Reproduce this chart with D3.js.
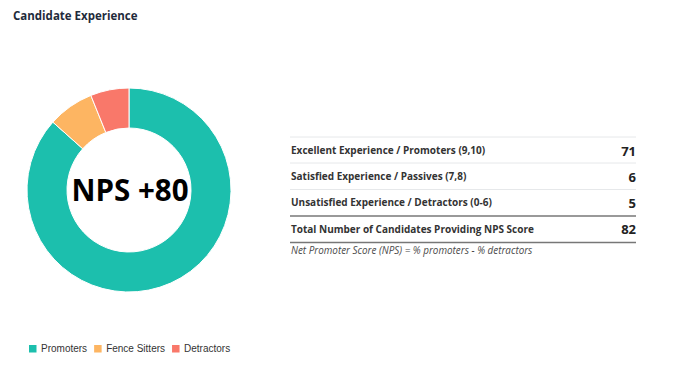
<!DOCTYPE html>
<html><head><meta charset="utf-8">
<script src="https://cdn.jsdelivr.net/npm/d3@7"></script>
<style>
html,body{margin:0;padding:0;background:#fff;}
svg{display:block;}
</style>
</head><body>
<svg id="c" width="698" height="380"></svg>
<script>
const categories = ["Promoters", "Fence Sitters", "Detractors"];
const counts = [71, 6, 5];
const colors = ["#1cbfad", "#fdb562", "#f9786a"];
const rowLabels = ["Excellent Experience / Promoters (9,10)", "Satisfied Experience / Passives (7,8)", "Unsatisfied Experience / Detractors (0-6)"];
const totalLabel = "Total Number of Candidates Providing NPS Score";
const footnote = "Net Promoter Score (NPS) = % promoters - % detractors";
const title = "Candidate Experience";

const total = d3.sum(counts);
const nps = Math.round(counts[0] / total * 100 - counts[2] / total * 100);

const svg = d3.select("#c");
const font = "'Open Sans', sans-serif";

svg.append("text").attr("x", 13).attr("y", 19.5)
  .attr("font-family", font).attr("font-weight", 700).attr("font-size", 11.5)
  .attr("fill", "#1f2b3b").text(title);

// donut
const cx = 129, cy = 190, R = 102, r = 62;
const pie = d3.pie().sort(null).value(d => d)(counts);
const arc = d3.arc().innerRadius(r).outerRadius(R);
const g = svg.append("g").attr("transform", `translate(${cx},${cy})`);
g.selectAll("path").data(pie).join("path")
  .attr("d", arc).attr("fill", (d, i) => colors[i])
  .attr("stroke", "#fff").attr("stroke-width", 1);
g.append("text").attr("text-anchor", "middle").attr("x", 1).attr("y", 11)
  .attr("font-family", font).attr("font-weight", 700).attr("font-size", 29.5)
  .attr("fill", "#000").text("NPS +" + nps);

// table
const x0 = 290, x1 = 636;
const lineYs = [137, 163, 189.5];
const y = d3.scalePoint().domain(d3.range(4)).range([150.5, 229]);
lineYs.forEach(v => svg.append("line").attr("x1", x0).attr("x2", x1).attr("y1", v).attr("y2", v)
  .attr("stroke", "#e6e8ea").attr("stroke-width", 1));
[216, 242.5].forEach(v => svg.append("line").attr("x1", x0).attr("x2", x1).attr("y1", v).attr("y2", v)
  .attr("stroke", "#777", ).attr("stroke-width", 1.5));

const rows = rowLabels.map((l, i) => ({label: l, val: counts[i]})).concat([{label: totalLabel, val: total}]);
rows.forEach((d, i) => {
  svg.append("text").attr("x", x0 + 1).attr("y", y(i)).attr("dy", "0.35em")
    .attr("font-family", font).attr("font-weight", 700).attr("font-size", 10)
    .attr("fill", "#333").text(d.label);
  svg.append("text").attr("x", x1).attr("y", y(i) + 0.5).attr("dy", "0.35em").attr("text-anchor", "end")
    .attr("font-family", font).attr("font-weight", 700).attr("font-size", 13)
    .attr("fill", "#222").text(d.val);
});
svg.append("text").attr("x", x0 + 1).attr("y", 251).attr("dy", "0.35em")
  .attr("font-family", font).attr("font-style", "italic").attr("font-size", 9.9)
  .attr("fill", "#4a4a4a").text(footnote);

// legend
const leg = svg.append("g").attr("transform", "translate(29,348.5)");
let lx = 0;
categories.forEach((c, i) => {
  const it = leg.append("g").attr("transform", `translate(${lx},0)`);
  it.append("rect").attr("x", 0).attr("y", -3.5).attr("width", 7.5).attr("height", 7.5).attr("fill", colors[i]);
  const t = it.append("text").attr("x", 12).attr("y", 0).attr("dy", "0.35em")
    .attr("font-family", "'Liberation Sans', Arial, sans-serif").attr("font-size", 10)
    .attr("fill", "#333").text(c);
  lx += 12 + t.node().getComputedTextLength() + 7;
});
</script>
</body></html>
